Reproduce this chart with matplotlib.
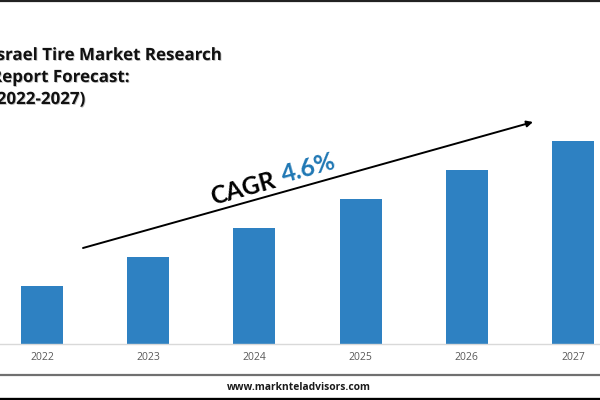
import matplotlib
matplotlib.use('Agg')
import matplotlib.pyplot as plt
import matplotlib.patheffects as pe

years = ['2022', '2023', '2024', '2025', '2026', '2027']
# no value labels in the picture, so these are bar heights read off it
values = [58, 87, 116, 145, 174, 203]
title_lines = ['Israel Tire Market Research', 'Report Forecast:', '(2022-2027)']

BLUE = '#2e81c2'
W, H = 600, 400
BASE = 344
STEP = 106.2
FIRST = 42

plt.rcParams['font.family'] = ['Open Sans', 'DejaVu Sans']

fig = plt.figure(figsize=(6, 4), dpi=100, facecolor='white')

# bars
ax = fig.add_axes([0, (H - BASE) / H, 1, BASE / H])
ax.bar(range(len(years)), values, width=42 / STEP, color=BLUE)
ax.set_xlim(-FIRST / STEP, (W - FIRST) / STEP)
ax.set_ylim(0, BASE)
ax.set_xticks(range(len(years)))
ax.set_xticklabels(years, fontsize=7.5, color='#595959')
ax.tick_params(axis='x', length=0, pad=5.5)
ax.set_yticks([])
for s in ['top', 'left', 'right']:
    ax.spines[s].set_visible(False)
ax.spines['bottom'].set_color('#d9d9d9')
ax.spines['bottom'].set_linewidth(1)
ax.patch.set_alpha(0)

# overlay in pixel coords for frame, title, arrow
ov = fig.add_axes([0, 0, 1, 1], zorder=5)
ov.set_xlim(0, W)
ov.set_ylim(H, 0)
ov.axis('off')

ov.plot([0, W], [0.8, 0.8], color='#222222', lw=1.6)
ov.plot([0, W], [375, 375], color='#707070', lw=1.6)
ov.plot([0, W], [398.5, 398.5], color='black', lw=2.4)

# title runs off the left edge in the reference too
shadow = [pe.withSimplePatchShadow(offset=(0.6, -0.6), shadow_rgbFace='black', alpha=0.25)]
for line, y in zip(title_lines, [55, 77, 99]):
    ov.text(-9, y, line, fontsize=12.2, fontweight='bold', color='#111111',
            ha='left', va='center', path_effects=shadow)

ov.annotate('', xy=(533, 122), xytext=(83, 248),
            arrowprops=dict(arrowstyle='-|>', color='black', lw=1.4, mutation_scale=9,
                            shrinkA=0, shrinkB=0))
ov.text(243, 189, 'CAGR', fontsize=17.5, fontweight='bold', family=['Lato', 'DejaVu Sans'],
        color='black', rotation=15.6, ha='center', va='center', rotation_mode='anchor')
ov.text(309, 168, '4.6%', fontsize=18, fontweight='bold', family=['Lato', 'DejaVu Sans'],
        color='#1f77b4', rotation=15.6, ha='center', va='center', rotation_mode='anchor')

ov.text(299, 387, 'www.marknteladvisors.com', fontsize=7.4, fontweight='bold',
        color='#1a1a1a', ha='center', va='center')

fig.savefig('out.png', dpi=100)
